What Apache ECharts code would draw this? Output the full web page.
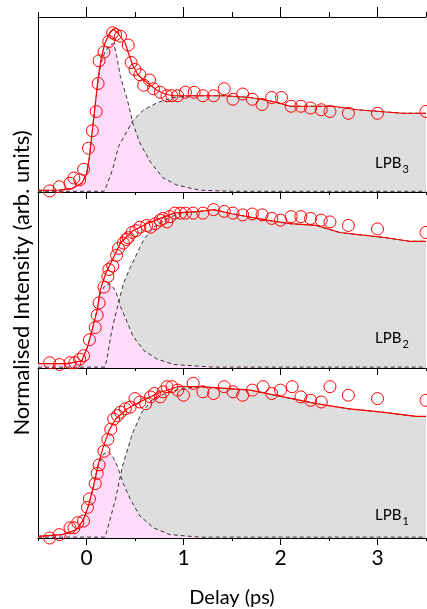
<!DOCTYPE html>
<html>
<head>
<meta charset="utf-8">
<script src="https://cdn.jsdelivr.net/npm/echarts@6/dist/echarts.min.js"></script>
<style>html,body{margin:0;padding:0;background:#fff}#c{width:427px;height:609px}</style>
</head>
<body>
<div id="c"></div>
<script>
// ---------- DATA ----------
const tickLabels = ['', '0', '', '1', '', '2', '', '3', ''];
const panelLabels = ['3', '2', '1']; // LPB subscripts, top to bottom

// LPB3 (top panel)
const lpb3Data = [[-0.38,0.006],[-0.28,0.03],[-0.17,0.05],[-0.13,0.08],[-0.07,0.07],[-0.03,0.13],[0.02,0.25],[0.06,0.35],[0.10,0.46],[0.12,0.62],[0.13,0.75],[0.18,0.80],[0.23,0.86],[0.27,0.91],[0.30,0.90],[0.35,0.89],[0.43,0.84],[0.46,0.74],[0.50,0.70],[0.55,0.67],[0.59,0.61],[0.65,0.64],[0.69,0.59],[0.76,0.57],[0.83,0.55],[0.88,0.55],[0.94,0.55],[1.02,0.57],[1.11,0.57],[1.20,0.55],[1.31,0.55],[1.42,0.59],[1.51,0.53],[1.61,0.56],[1.71,0.53],[1.81,0.50],[1.91,0.54],[2.01,0.54],[2.11,0.49],[2.21,0.49],[2.31,0.48],[2.42,0.47],[2.51,0.46],[2.70,0.45],[3.00,0.45],[3.50,0.46]];
const lpb3Fit = [[-0.5,0.01],[-0.3,0.01],[-0.15,0.02],[-0.05,0.05],[0.0,0.1],[0.03,0.2],[0.06,0.35],[0.09,0.5],[0.12,0.65],[0.15,0.76],[0.19,0.85],[0.24,0.91],[0.28,0.93],[0.32,0.91],[0.36,0.88],[0.40,0.85],[0.44,0.78],[0.48,0.72],[0.53,0.67],[0.59,0.64],[0.66,0.61],[0.73,0.58],[0.81,0.56],[0.89,0.55],[1.0,0.55],[1.2,0.55],[1.43,0.55],[1.69,0.54],[1.9,0.52],[2.1,0.49],[2.54,0.49],[2.79,0.47],[3.26,0.45],[3.5,0.45]];
const lpb3Fast = [[-0.5,0.01],[-0.3,0.01],[-0.15,0.02],[-0.05,0.05],[0.0,0.1],[0.03,0.2],[0.06,0.35],[0.09,0.5],[0.12,0.64],[0.15,0.74],[0.19,0.80],[0.24,0.84],[0.28,0.85],[0.31,0.78],[0.35,0.66],[0.42,0.53],[0.48,0.39],[0.55,0.28],[0.66,0.17],[0.79,0.08],[0.93,0.04],[1.17,0.01],[1.5,0.004],[3.5,0.004]];
const lpb3Slow = [[-0.5,0.004],[0.18,0.004],[0.21,0.04],[0.27,0.13],[0.33,0.26],[0.42,0.35],[0.48,0.41],[0.59,0.47],[0.73,0.51],[0.89,0.54],[1.1,0.55],[1.43,0.55],[1.69,0.54],[1.9,0.52],[2.1,0.49],[2.54,0.49],[2.79,0.47],[3.26,0.45],[3.5,0.45]];

// LPB2 (middle panel)
const lpb2Data = [[-0.38,0.03],[-0.28,0.02],[-0.17,0.03],[-0.12,0.03],[-0.07,0.05],[-0.03,0.07],[0.03,0.16],[0.09,0.23],[0.11,0.30],[0.13,0.37],[0.18,0.46],[0.22,0.52],[0.23,0.56],[0.27,0.58],[0.31,0.64],[0.33,0.68],[0.38,0.71],[0.41,0.73],[0.43,0.74],[0.47,0.77],[0.51,0.78],[0.55,0.80],[0.62,0.81],[0.66,0.80],[0.71,0.82],[0.76,0.84],[0.79,0.85],[0.83,0.83],[0.86,0.86],[0.91,0.88],[0.97,0.88],[1.02,0.88],[1.10,0.88],[1.20,0.88],[1.31,0.90],[1.42,0.89],[1.51,0.88],[1.61,0.87],[1.71,0.875],[1.81,0.87],[1.91,0.85],[2.00,0.84],[2.11,0.86],[2.21,0.86],[2.31,0.85],[2.42,0.84],[2.51,0.83],[2.70,0.81],[3.00,0.79],[3.50,0.77]];
const lpb2Fit = [[-0.5,0.025],[-0.2,0.025],[-0.05,0.04],[0.01,0.12],[0.06,0.22],[0.11,0.33],[0.14,0.44],[0.20,0.54],[0.28,0.63],[0.35,0.71],[0.48,0.78],[0.62,0.82],[0.76,0.85],[0.90,0.88],[1.17,0.89],[1.31,0.90],[1.51,0.875],[1.86,0.84],[2.10,0.82],[2.37,0.81],[2.61,0.77],[2.85,0.755],[3.09,0.74],[3.33,0.72],[3.5,0.72]];
const lpb2Fast = [[-0.5,0.025],[-0.2,0.025],[-0.05,0.04],[0.01,0.12],[0.06,0.22],[0.11,0.33],[0.14,0.42],[0.19,0.47],[0.24,0.48],[0.30,0.44],[0.35,0.35],[0.42,0.26],[0.48,0.18],[0.59,0.10],[0.73,0.05],[0.90,0.02],[1.3,0.005],[3.5,0.005]];
const lpb2Slow = [[-0.5,0.005],[0.19,0.005],[0.21,0.05],[0.25,0.18],[0.28,0.26],[0.33,0.37],[0.38,0.48],[0.45,0.57],[0.52,0.65],[0.59,0.73],[0.69,0.80],[0.83,0.85],[0.97,0.88],[1.17,0.89],[1.31,0.90],[1.51,0.875],[1.86,0.84],[2.10,0.82],[2.37,0.81],[2.61,0.77],[2.85,0.755],[3.09,0.74],[3.33,0.72],[3.5,0.72]];

// LPB1 (bottom panel)
const lpb1Data = [[-0.38,0.0],[-0.28,0.02],[-0.17,0.06],[-0.13,0.06],[-0.09,0.09],[-0.03,0.10],[0.01,0.18],[0.03,0.23],[0.09,0.32],[0.11,0.38],[0.13,0.43],[0.18,0.51],[0.22,0.58],[0.25,0.64],[0.28,0.70],[0.32,0.72],[0.35,0.74],[0.40,0.76],[0.45,0.77],[0.50,0.82],[0.55,0.80],[0.61,0.79],[0.66,0.83],[0.70,0.85],[0.76,0.83],[0.79,0.86],[0.83,0.89],[0.88,0.89],[0.94,0.87],[1.00,0.84],[1.10,0.91],[1.20,0.86],[1.31,0.85],[1.42,0.89],[1.51,0.86],[1.61,0.84],[1.71,0.87],[1.82,0.89],[1.91,0.85],[2.00,0.87],[2.12,0.89],[2.21,0.83],[2.31,0.81],[2.42,0.80],[2.51,0.89],[2.70,0.84],[3.00,0.82],[3.50,0.81]];
const lpb1Fit = [[-0.5,0.01],[-0.25,0.02],[-0.1,0.05],[-0.03,0.11],[0.02,0.19],[0.07,0.30],[0.12,0.43],[0.17,0.53],[0.23,0.63],[0.30,0.70],[0.42,0.76],[0.55,0.80],[0.73,0.85],[0.94,0.89],[1.17,0.89],[1.69,0.87],[2.03,0.83],[2.37,0.79],[2.71,0.76],[3.05,0.74],[3.40,0.715],[3.5,0.715]];
const lpb1Fast = [[-0.5,0.01],[-0.25,0.02],[-0.1,0.05],[-0.03,0.11],[0.02,0.19],[0.07,0.30],[0.12,0.43],[0.17,0.49],[0.22,0.51],[0.27,0.48],[0.32,0.42],[0.38,0.32],[0.45,0.23],[0.55,0.13],[0.69,0.06],[0.86,0.02],[1.17,0.005],[3.5,0.005]];
const lpb1Slow = [[-0.5,0.005],[0.19,0.005],[0.21,0.04],[0.30,0.23],[0.37,0.42],[0.47,0.61],[0.57,0.74],[0.69,0.82],[0.85,0.86],[1.0,0.88],[1.17,0.89],[1.69,0.87],[2.03,0.83],[2.37,0.79],[2.71,0.76],[3.05,0.74],[3.40,0.715],[3.5,0.715]];

const panels = [
  {data: lpb3Data, fit: lpb3Fit, fast: lpb3Fast, slow: lpb3Slow},
  {data: lpb2Data, fit: lpb2Fit, fast: lpb2Fast, slow: lpb2Slow},
  {data: lpb1Data, fit: lpb1Fit, fast: lpb1Fast, slow: lpb1Slow}
];

// ---------- LAYOUT ----------
const FONT = 'Lato, "Open Sans", sans-serif';
const grids = [
  {left: 38, right: 1, top: 17, height: 175},
  {left: 38, right: 1, top: 192, height: 176},
  {left: 38, right: 1, top: 368, height: 175}
];
const PINK = '#fcdcf9', GRAY = '#dedede', RED = '#ff0000', DASH = '#333333';

const xAxes = [], yAxes = [], series = [];
grids.forEach((g, i) => {
  const valIdx = xAxes.length;
  xAxes.push({
    type: 'value', gridIndex: i, position: 'bottom', min: -0.5, max: 3.5, interval: 0.5,
    axisLine: {show: true, onZero: false, lineStyle: {color: '#000', width: 1}},
    axisTick: {show: true, inside: false, length: 3, lineStyle: {color: '#000'}},
    axisLabel: {show: false}, splitLine: {show: false}
  });
  xAxes.push({
    type: 'category', gridIndex: i, position: 'bottom', data: tickLabels, boundaryGap: false,
    axisLine: {show: false},
    axisTick: {show: true, length: 7, interval: (idx) => idx % 2 === 1, lineStyle: {color: '#000'}},
    axisLabel: {show: i === 2, interval: (idx) => idx % 2 === 1, margin: 10,
      fontFamily: FONT, fontSize: 21, color: '#000'},
    name: i === 2 ? 'Delay (ps)' : '', nameLocation: 'middle', nameGap: 50,
    nameTextStyle: {fontFamily: FONT, fontSize: 20, color: '#000'},
    splitLine: {show: false}
  });
  if (i === 0) {
    xAxes.push({
      type: 'value', gridIndex: i, position: 'top', min: -0.5, max: 3.5, interval: 0.5,
      axisLine: {show: true, onZero: false, lineStyle: {color: '#000', width: 1}},
      axisTick: {show: true, inside: false, length: 5, lineStyle: {color: '#000'}},
      axisLabel: {show: false}, splitLine: {show: false}
    });
    xAxes.push({
      type: 'category', gridIndex: i, position: 'top', data: tickLabels, boundaryGap: false,
      axisLine: {show: false},
      axisTick: {show: true, length: 10, interval: (idx) => idx % 2 === 1, lineStyle: {color: '#000'}},
      axisLabel: {show: false}, splitLine: {show: false}
    });
  }
  yAxes.push({
    type: 'value', gridIndex: i, min: 0, max: 1,
    axisLine: {show: true, onZero: false, lineStyle: {color: '#000', width: 1}},
    axisTick: {show: false}, axisLabel: {show: false}, splitLine: {show: false}
  });
  const p = panels[i];
  const common = {xAxisIndex: valIdx, yAxisIndex: i, silent: true, animation: false, symbol: 'none'};
  series.push({...common, type: 'line', data: p.slow, z: 2,
    lineStyle: {width: 0, opacity: 0}, areaStyle: {color: GRAY, opacity: 1}});
  series.push({...common, type: 'line', data: p.fast, z: 3,
    lineStyle: {width: 0, opacity: 0}, areaStyle: {color: PINK, opacity: 1}});
  series.push({...common, type: 'line', data: p.slow, z: 4,
    lineStyle: {color: DASH, width: 1, type: [4, 3]}});
  series.push({...common, type: 'line', data: p.fast, z: 4,
    lineStyle: {color: DASH, width: 1, type: [4, 3]}});
  series.push({...common, type: 'line', data: p.fit, z: 5,
    lineStyle: {color: RED, width: 1.2}});
  series.push({xAxisIndex: valIdx, yAxisIndex: i, silent: true, animation: false,
    type: 'scatter', data: p.data, symbol: 'circle', symbolSize: 12, z: 6,
    itemStyle: {color: 'rgba(0,0,0,0)', borderColor: RED, borderWidth: 1, opacity: 1}});
});

const labelTops = [156, 331, 508];
const graphics = labelTops.map((t, i) => ({
  type: 'text', left: 375, top: t, z: 10, silent: true,
  style: {
    text: '{m|LPB}{s|' + panelLabels[i] + '}',
    rich: {
      m: {fontFamily: FONT, fontSize: 15, fill: '#000', lineHeight: 19, verticalAlign: 'top'},
      s: {fontFamily: FONT, fontSize: 11, fill: '#000', lineHeight: 11, verticalAlign: 'bottom', padding: [0, 0, 0, 1]}
    }
  }
}));
graphics.push({
  type: 'text', x: 22, y: 283, rotation: Math.PI / 2, z: 10, silent: true,
  style: {text: 'Normalised Intensity (arb. units)', fontFamily: FONT, fontSize: 22, fill: '#000',
    align: 'center', verticalAlign: 'middle'}
});

const chart = echarts.init(document.getElementById('c'), null, {renderer: 'canvas'});
chart.setOption({
  animation: false,
  backgroundColor: '#fff',
  grid: grids,
  xAxis: xAxes,
  yAxis: yAxes,
  series: series,
  graphic: graphics
});
</script>
</body>
</html>
